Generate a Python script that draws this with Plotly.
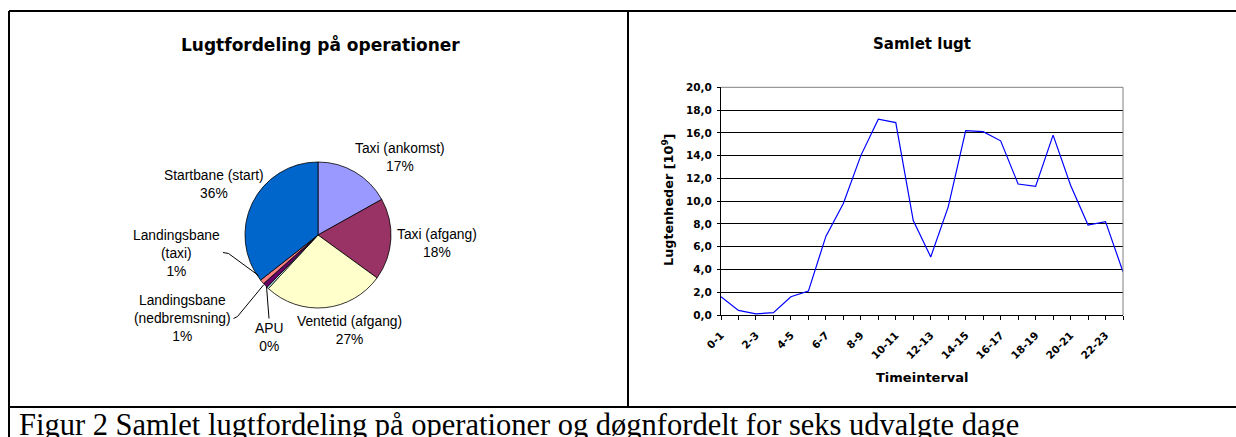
import plotly.graph_objects as go

# ---------------- data ----------------
pie_labels = ["Taxi (ankomst)", "Taxi (afgang)", "Ventetid (afgang)", "APU",
              "Landingsbane (nedbremsning)", "Landingsbane (taxi)", "Startbane (start)"]
pie_values = [16.9, 18.1, 26.9, 0.4, 1.1, 1.0, 35.6]
pie_colors = ["#9999FF", "#993366", "#FFFFCC", "#CCFFFF", "#660066", "#FF8080", "#0066CC"]

hour_labels = ["0-1", "1-2", "2-3", "3-4", "4-5", "5-6", "6-7", "7-8", "8-9", "9-10",
               "10-11", "11-12", "12-13", "13-14", "14-15", "15-16", "16-17", "17-18",
               "18-19", "19-20", "20-21", "21-22", "22-23", "23-24"]
odour_values = [1.6, 0.4, 0.1, 0.2, 1.6, 2.1, 6.9, 9.8, 14.0, 17.2, 16.9, 8.3,
                5.1, 9.5, 16.2, 16.1, 15.3, 11.5, 11.3, 15.8, 11.4, 7.9, 8.2, 3.8]
shown_hour_labels = ["0-1", "2-3", "4-5", "6-7", "8-9", "10-11", "12-13",
                     "14-15", "16-17", "18-19", "20-21", "22-23"]

# ---------------- layout helpers ----------------
W, H = 1236, 437
def px(x):
    return x / W
def py(y):
    return 1 - y / H

BOLD = "DejaVu Sans"
REG = "Liberation Sans, Arial, sans-serif"

fig = go.Figure()

fig.add_trace(go.Pie(
    labels=pie_labels, values=pie_values, sort=False, direction="clockwise", rotation=0,
    marker=dict(colors=pie_colors, line=dict(color="black", width=0.8)),
    textinfo="none", hoverinfo="label+percent",
    domain=dict(x=[px(245), px(391)], y=[py(308), py(162)]),
    showlegend=False,
))

fig.add_trace(go.Scatter(
    x=hour_labels, y=odour_values, mode="lines",
    line=dict(color="#0000FF", width=1.2), xaxis="x", yaxis="y", showlegend=False,
))

fig.update_layout(
    width=W, height=H, margin=dict(l=0, r=0, t=0, b=0),
    template="none", paper_bgcolor="white", plot_bgcolor="white",
    separators=",.", showlegend=False,
    xaxis=dict(
        domain=[px(721), px(1123)], type="category", range=[0, 23],
        tickmode="array", tickvals=hour_labels,
        ticktext=[h if h in shown_hour_labels else " " for h in hour_labels],
        tickangle=-45, ticks="outside", ticklen=4, tickcolor="black",
        ticklabelstandoff=5,
        showline=True, linecolor="black", linewidth=1, showgrid=False, zeroline=False,
        tickfont=dict(family=BOLD, size=10.5, color="black", weight="bold"),
        anchor="y", automargin=False,
    ),
    yaxis=dict(
        domain=[py(315), py(87.3)], range=[0, 20], dtick=2, tick0=0, tickformat=".1f",
        ticks="outside", ticklen=3, tickcolor="black", ticklabelstandoff=3,
        showline=True, linecolor="black", linewidth=1,
        showgrid=True, gridcolor="black", gridwidth=1, zeroline=False,
        tickfont=dict(family=BOLD, size=10.5, color="black", weight="bold"),
        anchor="x", automargin=False,
    ),
)

shapes = []
# plot area top/right border (grey)
shapes.append(dict(type="line", xref="x domain", yref="y domain", x0=0, x1=1, y0=1, y1=1,
                   line=dict(color="#808080", width=1)))
shapes.append(dict(type="line", xref="x domain", yref="y domain", x0=1, x1=1, y0=0, y1=1,
                   line=dict(color="#808080", width=1)))
# table borders
for (x0, y0, x1, y1) in [(9, 11, W + 5, 11), (9, 11, 9, H + 5), (628, 11, 628, 407),
                         (9, 407, W + 5, 407)]:
    shapes.append(dict(type="line", xref="paper", yref="paper",
                       x0=px(x0), y0=py(y0), x1=px(x1), y1=py(y1),
                       line=dict(color="black", width=2)))
# pie leader lines
for pts in [[(223, 252.5), (228.5, 253.5), (258.5, 275.5)],
            [(233.5, 318.5), (237.5, 316.5), (263.5, 285)],
            [(269, 318.5), (266.5, 286.5)]]:
    for (a, b) in zip(pts[:-1], pts[1:]):
        shapes.append(dict(type="line", xref="paper", yref="paper",
                           x0=px(a[0]), y0=py(a[1]), x1=px(b[0]), y1=py(b[1]),
                           line=dict(color="black", width=1)))
fig.update_layout(shapes=shapes)

annotations = []
# titles
annotations.append(dict(text="<b>Lugtfordeling på operationer</b>", x=px(320), y=py(44),
                        xref="paper", yref="paper", showarrow=False, xanchor="center",
                        yanchor="middle", font=dict(family=BOLD, size=17, color="black")))
annotations.append(dict(text="<b>Samlet lugt</b>", x=px(922), y=py(44),
                        xref="paper", yref="paper", showarrow=False, xanchor="center",
                        yanchor="middle", font=dict(family=BOLD, size=15, color="black")))
# axis titles
annotations.append(dict(text="<b>Lugtenheder [10<sup>9</sup>]</b>", x=px(668), y=py(200),
                        xref="paper", yref="paper", showarrow=False, textangle=-90,
                        xanchor="center", yanchor="middle",
                        font=dict(family=BOLD, size=12.8, color="black")))
annotations.append(dict(text="<b>Timeinterval</b>", x=px(922), y=py(377),
                        xref="paper", yref="paper", showarrow=False,
                        xanchor="center", yanchor="middle",
                        font=dict(family=BOLD, size=13, color="black")))
# pie labels
label_breaks = {"Landingsbane (nedbremsning)": "Landingsbane<br>(nedbremsning)",
                "Landingsbane (taxi)": "Landingsbane<br>(taxi)"}
label_pos = [(400, 157), (437, 243), (349, 330), (269, 337), (182, 318), (176, 253), (214, 184)]
total = sum(pie_values)
for lab, val, (lx, ly) in zip(pie_labels, pie_values, label_pos):
    pct = round(val / total * 100)
    annotations.append(dict(text=f"{label_breaks.get(lab, lab)}<br>{pct}%",
                            x=px(lx), y=py(ly), xref="paper", yref="paper", showarrow=False,
                            xanchor="center", yanchor="middle", align="center",
                            font=dict(family=REG, size=13.8, color="black")))
# caption
annotations.append(dict(text="Figur 2 Samlet lugtfordeling på operationer og døgnfordelt for seks udvalgte dage",
                        x=px(18), y=py(407), xref="paper", yref="paper", showarrow=False,
                        xanchor="left", yanchor="top", borderpad=0,
                        font=dict(family="Liberation Serif, Times New Roman, serif", size=30.5,
                                  color="black")))
fig.update_layout(annotations=annotations)

fig.write_html("out.html", config={"displayModeBar": False},
               post_script="document.body.style.margin='0';document.body.style.overflow='hidden';")
